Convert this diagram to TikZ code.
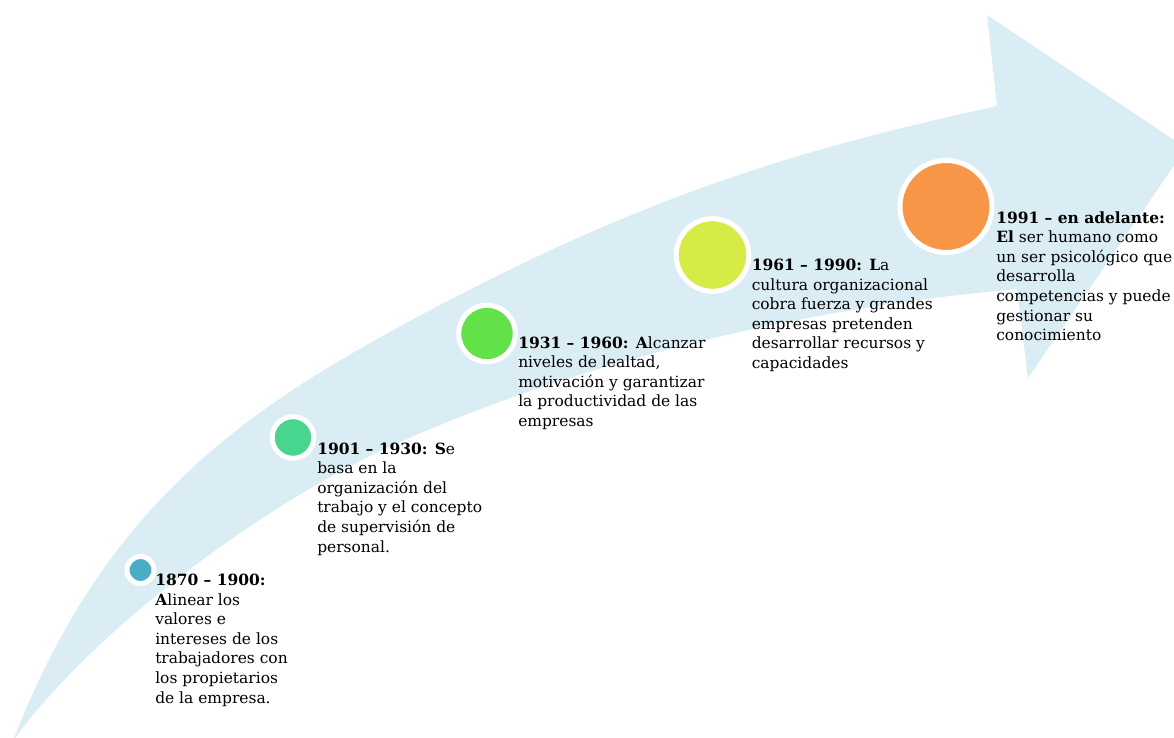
\documentclass[tikz,border=0pt]{standalone}
\usepackage{fontspec}
\setmainfont{DejaVu Serif}
\definecolor{arrowblue}{HTML}{DAEDF4}
\definecolor{dotA}{HTML}{4BACC6}
\definecolor{dotB}{HTML}{48D58F}
\definecolor{dotC}{HTML}{62E148}
\definecolor{dotD}{HTML}{D6EB46}
\definecolor{dotE}{HTML}{F79646}
\tikzset{
  dot/.style={circle, draw=white, line width=3.75pt, inner sep=0pt},
  era/.style={anchor=base west, inner sep=0pt, font=\fontsize{11.6pt}{14.67pt}\selectfont},
}
\newcommand{\eraLines}[1]{\begin{tabular}[t]{@{}l@{}}#1\end{tabular}}
\begin{document}
\begin{tikzpicture}[x=0.75pt,y=-0.75pt]
\useasboundingbox (0,0) rectangle (1174,738);
\begin{scope}
\clip (0,0) rectangle (1174,738);
% curved band with its arrow head
\fill[arrowblue]
  (13,741) .. controls (98,520) and (228,421) .. (388,333)
           .. controls (638,195.5) and (797,150) .. (997,106)
  -- (987,15) -- (1186,148) -- (1028,378) -- (1017,289)
           .. controls (817,307) and (600,354) .. (400,442)
           .. controls (270,499) and (93,629) .. (13,741)
  -- cycle;
\end{scope}
% milestones
\node[dot, fill=dotA, minimum size=20.25pt] (d1) at (140.5,570) {};
\node[dot, fill=dotB, minimum size=31.2pt] (d2) at (293,437.5) {};
\node[dot, fill=dotC, minimum size=42.4pt] (d3) at (487,333.5) {};
\node[dot, fill=dotD, minimum size=54.5pt] (d4) at (712.5,255) {};
\node[dot, fill=dotE, minimum size=69pt] (d5) at (946,206.5) {};
% period descriptions
\node[era] (t1) at (155,585.7) {\eraLines{\textbf{1870 – 1900:}\\\textbf{A}linear los\\valores e\\intereses de los\\trabajadores con\\los propietarios\\de la empresa.}};
\node[era] (t2) at (317,454.3) {\eraLines{\textbf{1901 – 1930: S}e\\basa en la\\organización del\\trabajo y el concepto\\de supervisión de\\personal.}};
\node[era] (t3) at (518,348.3) {\eraLines{\textbf{1931 – 1960: A}lcanzar\\niveles de lealtad,\\motivación y garantizar\\la productividad de las\\empresas}};
\node[era] (t4) at (751.5,270.7) {\eraLines{\textbf{1961 – 1990: L}a\\cultura organizacional\\cobra fuerza y grandes\\empresas pretenden\\desarrollar recursos y\\capacidades}};
\node[era] (t5) at (996,223.3) {\eraLines{\textbf{1991 – en adelante:}\\\textbf{El} ser humano como\\un ser psicológico que\\desarrolla\\competencias y puede\\gestionar su\\conocimiento}};
\end{tikzpicture}
\end{document}
